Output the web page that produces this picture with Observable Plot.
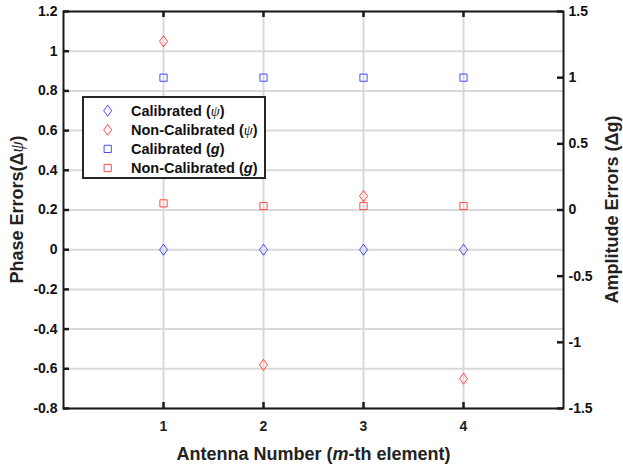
<!DOCTYPE html>
<html>
<head>
<meta charset="utf-8">
<script src="https://cdn.jsdelivr.net/npm/d3@7"></script>
<script src="https://cdn.jsdelivr.net/npm/@observablehq/plot@0.6"></script>
<style>
  html, body { margin: 0; padding: 0; background: #fff; }
  #chart svg { display: block; }
</style>
</head>
<body>
<div id="chart"></div>
<script>
// Antenna elements and measured errors
const antenna = [1, 2, 3, 4];
const phaseCal = [0, 0, 0, 0];
const phaseNonCal = [1.05, -0.58, 0.27, -0.65];
const ampCal = [1, 1, 1, 1];
const ampNonCal = [0.05, 0.03, 0.03, 0.03];

// Axis ticks
const xTicks = [1, 2, 3, 4];
const phaseTicks = [-0.8, -0.6, -0.4, -0.2, 0, 0.2, 0.4, 0.6, 0.8, 1, 1.2];
const ampTicks = [-1.5, -1, -0.5, 0, 0.5, 1, 1.5];

const phaseDomain = [-0.8, 1.2];
const ampDomain = [-1.5, 1.5];

// Amplitude values share the phase scale through a linear mapping (right axis)
const toPhase = g => phaseDomain[0] + (g - ampDomain[0]) / (ampDomain[1] - ampDomain[0]) * (phaseDomain[1] - phaseDomain[0]);
const fromPhase = p => ampDomain[0] + (p - phaseDomain[0]) / (phaseDomain[1] - phaseDomain[0]) * (ampDomain[1] - ampDomain[0]);
const fmt = d => String(Math.round(d * 10) / 10);

const series = [
  {name: "Calibrated", sym: "\u03c8", values: phaseCal, kind: "diamond", color: "#1f1fff", amp: false},
  {name: "Non-Calibrated", sym: "\u03c8", values: phaseNonCal, kind: "diamond", color: "#ff2020", amp: false},
  {name: "Calibrated", sym: "g", values: ampCal, kind: "square", color: "#1f1fff", amp: true},
  {name: "Non-Calibrated", sym: "g", values: ampNonCal, kind: "square", color: "#ff2020", amp: true}
];

// Marker shapes: a tall diamond and a small square
const diamondSym = {draw(ctx) { const w = 4, h = 5.5; ctx.moveTo(0, -h); ctx.lineTo(w, 0); ctx.lineTo(0, h); ctx.lineTo(-w, 0); ctx.closePath(); }};
const squareSym = {draw(ctx) { const s = 3.6; ctx.rect(-s, -s, 2 * s, 2 * s); }};
const symbols = {diamond: diamondSym, square: squareSym};

const W = 623, H = 464;
const margin = {left: 63, right: 60, top: 11, bottom: 56};
const innerW = W - margin.left - margin.right;
const innerH = H - margin.top - margin.bottom;
const tickLen = 6;

const gridStyle = {stroke: "#d9d9d9", strokeOpacity: 1, strokeWidth: 2};
const axisStroke = {stroke: "#1a1a1a", strokeWidth: 2};
const tickStyle = {stroke: "#1a1a1a", strokeWidth: 2.5, strokeOpacity: 1};

const marks = [
  Plot.gridY(phaseTicks, gridStyle),
  Plot.gridX(xTicks, gridStyle),
  ...series.map(s => Plot.dot(antenna, {
    x: d => d,
    y: (d, i) => s.amp ? toPhase(s.values[i]) : s.values[i],
    symbol: symbols[s.kind],
    fill: "none",
    stroke: s.color,
    strokeWidth: 1,
    strokeOpacity: 0.8
  })),
  Plot.frame(axisStroke),
  // short tick marks pointing into the plot area
  Plot.tickY(phaseTicks, {y: d => d, insetRight: innerW - tickLen, ...tickStyle}),
  Plot.tickY(ampTicks, {y: d => toPhase(d), insetLeft: innerW - tickLen, ...tickStyle}),
  Plot.tickX(xTicks, {x: d => d, insetTop: innerH - tickLen, ...tickStyle}),
  Plot.tickX(xTicks, {x: d => d, insetBottom: innerH - tickLen, ...tickStyle}),
  // tick labels
  Plot.axisY(phaseTicks, {anchor: "left", tickSize: 0, tickPadding: 6, tickFormat: fmt, label: null, fill: "#111"}),
  Plot.axisY(ampTicks.map(toPhase), {anchor: "right", tickSize: 0, tickPadding: 5, tickFormat: d => fmt(fromPhase(d)), label: null, fill: "#111"}),
  Plot.axisX(xTicks, {anchor: "bottom", tickSize: 0, tickPadding: 13, tickFormat: fmt, label: null, fill: "#222"})
];

const chart = Plot.plot({
  width: W,
  height: H,
  marginLeft: margin.left,
  marginRight: margin.right,
  marginTop: margin.top,
  marginBottom: margin.bottom,
  x: {domain: [0, 5]},
  y: {domain: phaseDomain},
  style: {fontFamily: "'Liberation Sans', Arial, sans-serif", fontWeight: "bold", fontSize: "14px", background: "#fff", color: "#111"},
  marks
});

document.getElementById("chart").appendChild(chart);

const svg = d3.select(chart);
const greek = {"font-family": "'Liberation Serif', serif", "font-style": "italic", "font-weight": "normal"};

function addLabel(g, parts) {
  parts.forEach(p => {
    const t = g.append("tspan").text(p.text);
    if (p.style) Object.entries(p.style).forEach(([k, v]) => t.attr(k, v));
  });
}

// Axis titles
const labelFont = {"font-family": "'Liberation Sans', Arial, sans-serif", "font-weight": "bold", "font-size": 18, fill: "#222", "text-anchor": "middle"};
function title(x, y, rotate, parts) {
  const t = svg.append("text").attr("transform", `translate(${x},${y}) rotate(${rotate})`);
  Object.entries(labelFont).forEach(([k, v]) => t.attr(k, v));
  addLabel(t, parts);
}
title(313.5, 460, 0, [{text: "Antenna Number ("}, {text: "m", style: {"font-style": "italic"}}, {text: "-th element)"}]);
title(23, 209.5, -90, [{text: "Phase Errors(\u0394"}, {text: "\u03c8", style: greek}, {text: ")"}]);
title(618, 209.5, -90, [{text: "Amplitude Errors (\u0394g)"}]);

// Legend
const legend = svg.append("g").attr("transform", "translate(83,97)");
legend.append("rect").attr("width", 182).attr("height", 81).attr("fill", "#fff").attr("stroke", "#262626").attr("stroke-width", 2);
series.forEach((s, i) => {
  const y = 13.7 + i * 19.1;
  const p = d3.path();
  symbols[s.kind].draw(p);
  legend.append("path").attr("d", p.toString()).attr("transform", `translate(24.7,${y})`)
    .attr("fill", "none").attr("stroke", s.color).attr("stroke-opacity", 0.8).attr("stroke-width", 1);
  const t = legend.append("text").attr("x", 48).attr("y", y).attr("dy", "0.36em").attr("text-anchor", "start")
    .attr("font-family", "'Liberation Sans', Arial, sans-serif").attr("font-weight", "bold").attr("font-size", 14.5).attr("fill", "#111");
  addLabel(t, [
    {text: s.name + " ("},
    {text: s.sym, style: s.amp ? {"font-style": "italic"} : greek},
    {text: ")"}
  ]);
});
</script>
</body>
</html>
